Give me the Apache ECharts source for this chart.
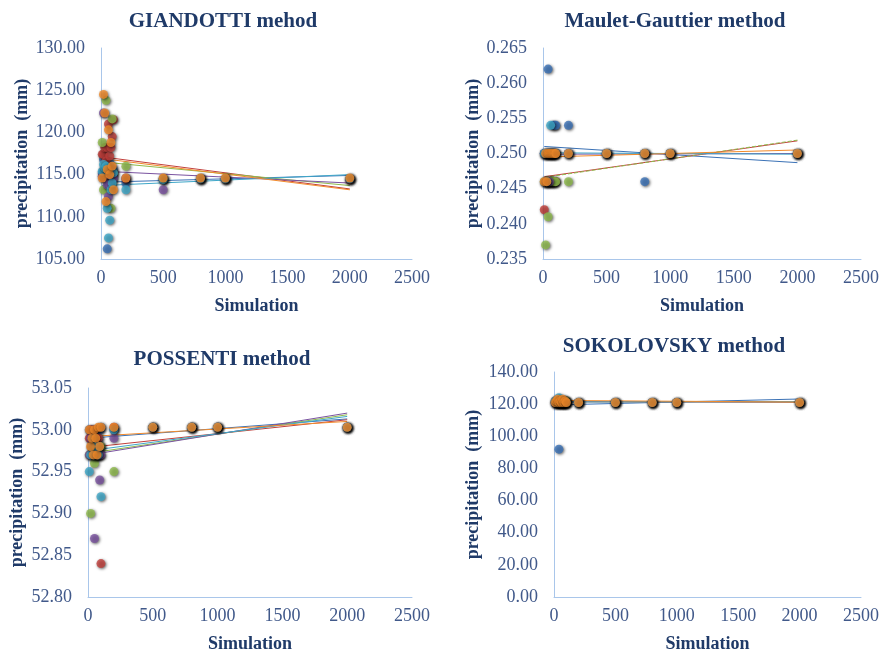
<!DOCTYPE html>
<html>
<head>
<meta charset="utf-8">
<script src="https://cdn.jsdelivr.net/npm/echarts@6/dist/echarts.min.js"></script>
<style>
html,body{margin:0;padding:0;background:#fff;}
#chart{width:882px;height:654px;}
</style>
</head>
<body>
<div id="chart"></div>
<script>
// ---------- DATA ----------
const simulations = [10,20,30,40,50,60,70,80,90,100,200,500,800,1000,2000];
const xTicks = [0,500,1000,1500,2000,2500];
const titles = ['GIANDOTTI mehod','Maulet-Gauttier method','POSSENTI method','SOKOLOVSKY method'];
const runNames = ['Run 1','Run 2','Run 3','Run 4','Run 5','Run 6'];

// GIANDOTTI
const giandottiRun1 = [115.2,116.8,115.4,114.8,106.2,114.2,116.4,115.0,114.4,115.6,114.0,114.4,114.5,114.5,114.5];
const giandottiRun2 = [117.4,117.4,118.2,116.6,118.2,121.0,117.2,118.2,119.5,121.5,114.5,114.5,114.5,114.5,114.4];
const giandottiRun3 = [118.8,113.2,115.2,123.8,115.8,113.8,114.2,111.0,121.6,115.2,116.0,114.5,114.5,114.5,114.5];
const giandottiRun4 = [114.8,122.3,114.6,115.0,113.8,112.4,113.8,115.4,114.8,114.6,114.6,113.2,114.5,114.5,114.5];
const giandottiRun5 = [115.4,116.2,115.8,116.0,111.0,107.5,109.6,113.2,114.0,115.2,113.2,114.4,114.5,114.5,114.5];
const giandottiRun6 = [114.6,124.5,122.3,111.8,115.6,120.3,115.0,118.8,116.0,113.2,114.6,114.6,114.6,114.6,114.6];
const giandottiTrendStart = [114.1,117.1,116.5,115.4,113.7,116.9];
const giandottiTrendEnd   = [114.9,113.3,113.7,114.0,115.0,113.2];

// MAULET-GAUTTIER
const mauletRun1 = [0.250,0.250,0.250,0.262,0.250,0.250,0.250,0.254,0.254,0.254,0.254,0.250,0.246,0.250,0.250];
const mauletRun2 = [0.242,0.246,0.246,0.246,0.246,0.246,0.246,0.246,0.246,0.246,0.250,0.250,0.250,0.250,0.250];
const mauletRun3 = [0.246,0.237,0.246,0.241,0.246,0.246,0.246,0.246,0.246,0.246,0.246,0.250,0.250,0.250,0.250];
const mauletRun4 = [0.250,0.246,0.250,0.250,0.246,0.250,0.250,0.250,0.250,0.250,0.250,0.250,0.250,0.250,0.250];
const mauletRun5 = [0.250,0.250,0.246,0.250,0.250,0.254,0.250,0.250,0.250,0.250,0.250,0.250,0.250,0.250,0.250];
const mauletRun6 = [0.246,0.250,0.246,0.250,0.250,0.250,0.250,0.250,0.250,0.250,0.250,0.250,0.250,0.250,0.250];
const mauletTrendStart = [0.2510,0.2467,0.2466,0.2499,0.2501,0.2495];
const mauletTrendEnd   = [0.2487,0.2518,0.2519,0.2500,0.2499,0.2505];

// POSSENTI
const possentiRun1 = [53.000,52.990,53.000,52.980,52.990,53.000,52.980,52.990,53.000,53.003,53.000,53.003,53.003,53.003,53.003];
const possentiRun2 = [52.990,53.000,52.980,52.990,53.000,52.970,52.980,52.990,52.980,52.840,53.003,53.003,53.003,53.003,53.003];
const possentiRun3 = [52.970,52.900,52.980,52.970,52.960,52.970,52.980,52.970,52.970,52.980,52.950,53.003,53.003,53.003,53.003];
const possentiRun4 = [52.970,52.990,52.980,52.970,52.870,52.980,52.970,52.970,52.940,52.970,52.990,53.003,53.003,53.003,53.003];
const possentiRun5 = [52.950,52.970,52.980,52.990,52.970,52.980,52.980,52.970,52.980,52.920,53.000,53.003,53.003,53.003,53.003];
const possentiRun6 = [53.000,52.980,52.990,52.970,53.000,52.990,52.970,53.003,52.980,53.003,53.003,53.003,53.003,53.003,53.003];
const possentiTrendStart = [52.990,52.979,52.972,52.970,52.975,52.992];
const possentiTrendEnd   = [53.013,53.012,53.018,53.020,53.016,53.010];

// SOKOLOVSKY
const sokolovskyRun1 = [121,122,121,92,122,121,121,122,121,121,121,121,121,121,121];
const sokolovskyRun2 = [122,121,122,121,121,122,121,121,122,121,121,121,121,121,121];
const sokolovskyRun3 = [121,122,121,122,121,121,122,121,121,122,121,121,121,121,121];
const sokolovskyRun4 = [121,121,122,121,122,121,121,122,121,121,121,121,121,121,121];
const sokolovskyRun5 = [122,121,121,124,121,122,121,121,122,121,121,121,121,121,121];
const sokolovskyRun6 = [121,122,123,121,122,121,123,121,122,121,121,121,121,121,121];
const sokolovskyTrendStart = [119.5,121.6,121.5,121.5,121.4,122.3];
const sokolovskyTrendEnd   = [123.2,121.3,121.4,121.4,121.6,121.3];

// ---------- STYLE ----------
const COLORS = ['#3b72b6','#c2403c','#8fba4c','#7a53a0','#3fa7c8','#f28b2b'];
const SERIF = "'Liberation Serif','Times New Roman',serif";
const NAVY = '#1f3a68';
const TICK = '#41598a';
const AXIS = '#a9c6ea';

const panels = [
  {runs:[giandottiRun1,giandottiRun2,giandottiRun3,giandottiRun4,giandottiRun5,giandottiRun6],
   ts:giandottiTrendStart, te:giandottiTrendEnd, min:105, max:130, step:5, dec:2,
   grid:{left:101,top:48,width:311,height:211}, yGap:70, title:{x:218,y:6}},
  {runs:[mauletRun1,mauletRun2,mauletRun3,mauletRun4,mauletRun5,mauletRun6],
   ts:mauletTrendStart, te:mauletTrendEnd, min:0.235, max:0.265, step:0.005, dec:3,
   grid:{left:543,top:48,width:319,height:211}, yGap:61, title:{x:670,y:6}},
  {runs:[possentiRun1,possentiRun2,possentiRun3,possentiRun4,possentiRun5,possentiRun6],
   ts:possentiTrendStart, te:possentiTrendEnd, min:52.80, max:53.05, step:0.05, dec:2,
   grid:{left:88,top:388,width:324,height:210}, yGap:62, title:{x:217,y:344}},
  {runs:[sokolovskyRun1,sokolovskyRun2,sokolovskyRun3,sokolovskyRun4,sokolovskyRun5,sokolovskyRun6],
   ts:sokolovskyTrendStart, te:sokolovskyTrendEnd, min:0, max:140, step:20, dec:2,
   grid:{left:554,top:372,width:309,height:226}, yGap:72, title:{x:669,y:331}}
];

const option = {
  animation:false,
  backgroundColor:'#fff',
  title:[], grid:[], xAxis:[], yAxis:[], series:[]
};

panels.forEach((p,i)=>{
  option.title.push({
    text:titles[i], left:p.title.x, top:p.title.y, textAlign:'center',
    textStyle:{fontFamily:SERIF,fontWeight:'bold',fontSize:21,color:NAVY}
  });
  option.grid.push(Object.assign({containLabel:false},p.grid));
  option.xAxis.push({
    gridIndex:i, type:'value', min:xTicks[0], max:xTicks[xTicks.length-1], interval:500,
    name:'Simulation', nameLocation:'middle', nameGap:38,
    nameTextStyle:{fontFamily:SERIF,fontWeight:'bold',fontSize:18,color:NAVY},
    axisLine:{show:true,lineStyle:{color:AXIS,width:1}},
    axisTick:{show:false}, splitLine:{show:false},
    axisLabel:{fontFamily:SERIF,fontSize:18,color:TICK,margin:10,showMaxLabel:true,showMinLabel:true,
      formatter:v=>String(Math.round(v))}
  });
  option.yAxis.push({
    gridIndex:i, type:'value', min:p.min, max:p.max, interval:p.step,
    name:'precipitation  (mm)', nameLocation:'middle', nameGap:p.yGap,
    nameTextStyle:{fontFamily:SERIF,fontWeight:'bold',fontSize:18,color:NAVY},
    axisLine:{show:true,lineStyle:{color:AXIS,width:1}},
    axisTick:{show:false}, splitLine:{show:false},
    axisLabel:{fontFamily:SERIF,fontSize:18,color:TICK,margin:16,
      formatter:v=>Number(v).toFixed(p.dec)}
  });
  // trend lines
  p.runs.forEach((run,k)=>{
    option.series.push({
      type:'line', xAxisIndex:i, yAxisIndex:i, silent:true, symbol:'none', z:2,
      name:runNames[k]+' trend',
      data:[[simulations[0],p.ts[k]],[simulations[simulations.length-1],p.te[k]]],
      lineStyle:{color:COLORS[k],width:1, type:(i===1&&k===2)?'dashed':'solid'}
    });
  });
  // scatter points
  p.runs.forEach((run,k)=>{
    option.series.push({
      type:'scatter', xAxisIndex:i, yAxisIndex:i, name:runNames[k], z:3,
      symbolSize:9,
      data:simulations.map((x,j)=>[x,run[j]]),
      itemStyle:{color:COLORS[k],shadowBlur:3,shadowColor:'rgba(0,0,0,0.75)',shadowOffsetX:1,shadowOffsetY:1}
    });
  });
});

const chart = echarts.init(document.getElementById('chart'),null,{renderer:'canvas'});
chart.setOption(option);
</script>
</body>
</html>
